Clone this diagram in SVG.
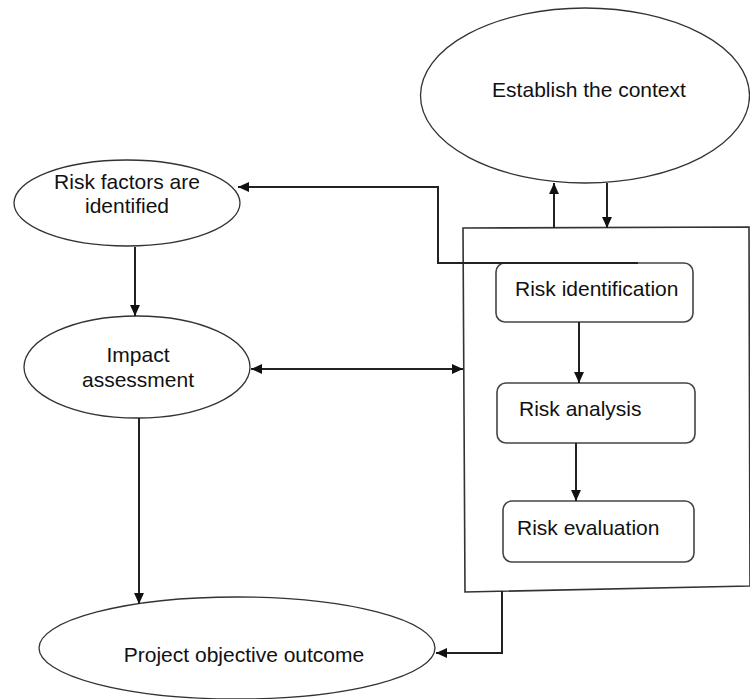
<svg xmlns="http://www.w3.org/2000/svg" width="750" height="699" viewBox="0 0 750 699">
<style>
.shape{fill:#fff;stroke:#333;stroke-width:1.3}
.box{fill:#fff;stroke:#444;stroke-width:1.6}
.frame{fill:none;stroke:#333;stroke-width:1.6}
.conn{fill:none;stroke:#222;stroke-width:2}
text{font-family:"Liberation Sans",Arial,sans-serif;font-size:21px;fill:#111}
.c{text-anchor:middle}
</style>
<defs>
<marker id="ah" viewBox="0 0 10 10" refX="10" refY="5" markerWidth="11" markerHeight="11" markerUnits="userSpaceOnUse" orient="auto-start-reverse">
<path d="M0,0.5 L10,5 L0,9.5 Z" fill="#111"/>
</marker>
</defs>
<rect width="750" height="699" fill="#fff"/>
<g id="process-frame">
<polygon class="frame" points="463,228 749,227 750,586 465,592"/>
</g>
<g id="establish-context">
<ellipse class="shape" cx="585" cy="95.5" rx="164.5" ry="87.5"/>
<text class="c" x="589" y="97">Establish the context</text>
</g>
<g id="risk-factors">
<ellipse class="shape" cx="127" cy="203" rx="113" ry="43"/>
<text class="c" x="127" y="189">Risk factors are</text>
<text class="c" x="127" y="213">identified</text>
</g>
<g id="impact-assessment">
<ellipse class="shape" cx="137" cy="367" rx="113" ry="51"/>
<text class="c" x="138" y="362">Impact</text>
<text class="c" x="138" y="387">assessment</text>
</g>
<g id="project-outcome">
<ellipse class="shape" cx="237" cy="648" rx="198" ry="51"/>
<text class="c" x="244" y="662">Project objective outcome</text>
</g>
<g id="risk-identification">
<rect class="box" x="496" y="263" width="197" height="59" rx="9"/>
<text x="515" y="296">Risk identification</text>
</g>
<g id="risk-analysis">
<rect class="box" x="497" y="383" width="198" height="60" rx="9"/>
<text x="519" y="416">Risk analysis</text>
</g>
<g id="risk-evaluation">
<rect class="box" x="503" y="501" width="191" height="61" rx="9"/>
<text x="517" y="535">Risk evaluation</text>
</g>
<g id="connectors">
<path class="conn" d="M554 228 L554 183" marker-end="url(#ah)"/>
<path class="conn" d="M607 183 L607 228" marker-end="url(#ah)"/>
<path class="conn" d="M638 263 L438 263 L438 187 L238 187" marker-end="url(#ah)"/>
<path class="conn" d="M135 247 L135 316" marker-end="url(#ah)"/>
<path class="conn" d="M251 369 L463 369" marker-start="url(#ah)" marker-end="url(#ah)"/>
<path class="conn" d="M139 418 L139 604" marker-end="url(#ah)"/>
<path class="conn" d="M502 591 L502 653 L436 653" marker-end="url(#ah)"/>
<path class="conn" d="M579 322 L579 383" marker-end="url(#ah)"/>
<path class="conn" d="M576 443 L576 501" marker-end="url(#ah)"/>
</g>
</svg>
